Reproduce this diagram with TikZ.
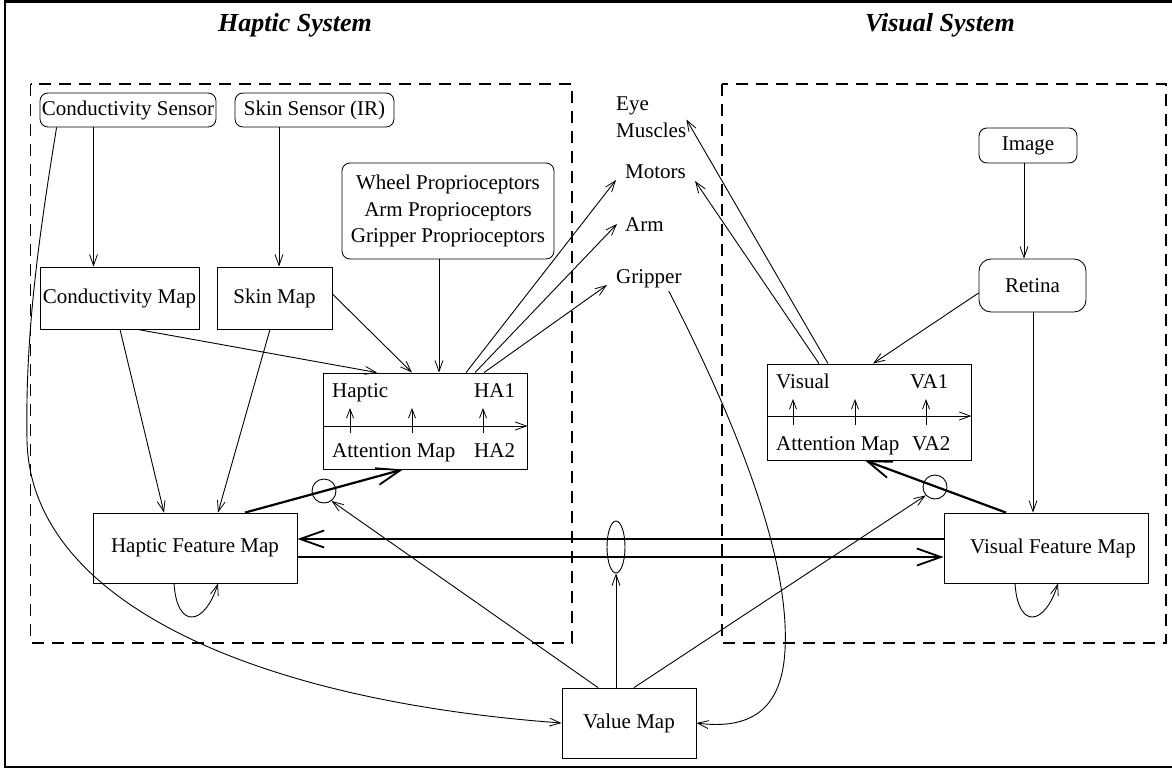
\documentclass[tikz,border=0pt]{standalone}
\usepackage{fontspec}
\setmainfont{Liberation Serif}
\usetikzlibrary{arrows.meta,shapes.geometric}
\begin{document}
\begin{tikzpicture}[x=1pt,y=-1pt,
  font=\fontsize{21}{26.5}\selectfont,
  arr/.style={line width=0.9pt,-{Straight Barb[length=11pt,width=8pt,line width=0.8pt]}},
  sarr/.style={line width=0.9pt,-{Straight Barb[length=9pt,width=7pt,line width=0.8pt]}},
  bigarr/.style={line width=2.2pt,-{Straight Barb[length=24pt,width=17pt,line width=1.8pt]}},
  box/.style={draw,line width=0.85pt,rectangle,inner sep=0pt},
  rbox/.style={box,rounded corners=8pt},
  dashbox/.style={draw,line width=1.6pt,dash pattern=on 12pt off 8pt},
  title/.style={font=\fontsize{26}{30}\selectfont\bfseries\itshape},
  lbl/.style={inner sep=0pt,anchor=mid west},
  ring/.style={circle,draw,line width=0.9pt,minimum size=24pt,inner sep=0pt}]
\useasboundingbox (0,0) rectangle (1172,769);
% frame
\draw[line width=3pt] (1172,1.5) -- (5,1.5);
\draw[line width=2.5pt] (5,0) -- (5,768);
\draw[line width=2pt] (5,767) -- (1172,767);
% titles
\node[title] (ht) at (295,25) {Haptic System};
\node[title] (vt) at (940,25) {Visual System};
% dashed regions
\draw[dashbox] (30.6,84) rectangle (572,643);
\draw[dashbox] (722,84) rectangle (1166,643);
% haptic nodes
\node[rbox,minimum width=176pt,minimum height=34pt] (cs) at (128,110) {Conductivity Sensor};
\node[rbox,minimum width=159pt,minimum height=34pt] (ss) at (314.5,110) {Skin Sensor (IR)};
\node[rbox,minimum width=212pt,minimum height=96pt,align=center] (pp) at (448,211) {Wheel Proprioceptors\\Arm Proprioceptors\\Gripper Proprioceptors};
\node[box,minimum width=159pt,minimum height=62pt] (cm) at (119.5,298) {Conductivity Map};
\node[box,minimum width=115pt,minimum height=62pt] (sm) at (274.5,298) {Skin Map};
\node[box,minimum width=204pt,minimum height=96pt] (ha) at (425,421) {};
\node[box,minimum width=204pt,minimum height=70pt] (hf) at (195,548) {Haptic Feature Map};
% attention labels (haptic)
\node[lbl] (hl1) at (332,395) {Haptic};
\node[lbl] (hl2) at (474,395) {HA1};
\node[lbl] (hl3) at (332,455) {Attention Map};
\node[lbl] (hl4) at (474,455) {HA2};
% visual nodes
\node[rbox,minimum width=98pt,minimum height=35pt] (im) at (1028,145.5) {Image};
\node[rbox,rounded corners=12pt,minimum width=107pt,minimum height=53pt] (re) at (1032.5,285.5) {Retina};
\node[box,minimum width=204pt,minimum height=96pt] (va) at (869,412) {};
\node[box,minimum width=204pt,minimum height=70pt] (vf) at (1046,548) {\hspace*{14pt}Visual Feature Map};
\node[lbl] (vl1) at (776,386) {Visual};
\node[lbl] (vl2) at (910,386) {VA1};
\node[lbl] (vl3) at (776,448) {Attention Map};
\node[lbl] (vl4) at (912,448) {VA2};
% value map
\node[box,minimum width=134pt,minimum height=70pt] (vm) at (629,723) {Value Map};
% effectors
\node[inner sep=0pt,anchor=west,align=left] (eye) at (616,117) {Eye\\Muscles};
\node[lbl] (mot) at (625,176) {Motors};
\node[lbl] (arm) at (625,229) {Arm};
\node[lbl] (grip) at (616,281) {Gripper};
% rings
\node[ring] (hc) at (324,491) {};
\node[ring] (vc) at (935,487) {};
\node[ellipse,draw,line width=0.9pt,minimum width=18pt,minimum height=52pt,inner sep=0pt] (el) at (616,547) {};
% haptic connectors
\draw[arr] ([xshift=-34.5pt]cs.south) -- ([xshift=-26pt]cm.north);
\draw[arr] ([xshift=-35.5pt]ss.south) -- ([xshift=4.5pt]sm.north);
\draw[arr] ([xshift=-9pt]pp.south) -- ([xshift=14pt]ha.north);
\draw[arr] ([xshift=18pt]cm.south) -- ([xshift=-48pt]ha.north);
\draw[arr] ([yshift=4pt]sm.east) -- ([xshift=-13pt]ha.north);
\draw[arr] ([xshift=41pt]ha.north) -- ([xshift=-9pt,yshift=-4pt]mot.mid west);
\draw[arr] ([xshift=50pt]ha.north) -- ([xshift=-8pt,yshift=5pt]arm.mid west);
\draw[arr] ([xshift=59pt]ha.north) -- ([xshift=-9pt,yshift=-4pt]grip.mid west);
\draw[arr] ([xshift=0.5pt]cm.south) -- ([xshift=-31pt]hf.north);
\draw[arr] ([xshift=-4.5pt]sm.south) -- ([xshift=23pt]hf.north);
\draw[bigarr] ([xshift=50pt]hf.north) -- ([xshift=-22pt]ha.south);
\draw[arr] ([xshift=-21pt]hf.south) .. controls +(3,47) and +(-13,42) .. ([xshift=23pt]hf.south);
% haptic attention internals
\draw[arr] ([yshift=-5pt]ha.west) -- ([yshift=-5pt]ha.east);
\draw[sarr] ([xshift=-75pt,yshift=-12pt]ha.center) -- ([xshift=-75pt,yshift=13pt]ha.center);
\draw[sarr] ([xshift=-13pt,yshift=-12pt]ha.center) -- ([xshift=-13pt,yshift=13pt]ha.center);
\draw[sarr] ([xshift=58pt,yshift=-12pt]ha.center) -- ([xshift=58pt,yshift=13pt]ha.center);
% visual connectors
\draw[arr] ([xshift=-4pt]im.south) -- ([xshift=-8.5pt]re.north);
\draw[arr] ([yshift=-7.5pt]re.west) -- ([xshift=4pt]va.north);
\draw[arr] ([xshift=0.5pt]re.south) -- ([xshift=-13pt]vf.north);
\draw[arr] ([xshift=-41pt]va.north) -- ([yshift=-2.5pt]eye.east);
\draw[arr] ([xshift=-50pt]va.north) -- ([xshift=9pt,yshift=-5pt]mot.mid east);
\draw[bigarr] ([xshift=-40pt]vf.north) -- ([xshift=-4pt]va.south);
\draw[arr] ([xshift=-31pt]vf.south) .. controls +(3,47) and +(-13,42) .. ([xshift=12pt]vf.south);
% visual attention internals
\draw[arr] ([yshift=-4pt]va.west) -- ([yshift=-4pt]va.east);
\draw[sarr] ([xshift=-76pt,yshift=-13pt]va.center) -- ([xshift=-76pt,yshift=13pt]va.center);
\draw[sarr] ([xshift=-14pt,yshift=-13pt]va.center) -- ([xshift=-14pt,yshift=13pt]va.center);
\draw[sarr] ([xshift=57pt,yshift=-13pt]va.center) -- ([xshift=57pt,yshift=13pt]va.center);
% feature map exchange
\draw[bigarr] ([yshift=9pt]vf.west) -- ([yshift=9pt]hf.east);
\draw[bigarr] ([yshift=-9pt]hf.east) -- ([yshift=-9pt]vf.west);
% value map connectors
\draw[arr] ([xshift=-31pt]vm.north) -- (hc.-53);
\draw[arr] ([xshift=-13pt]vm.north) -- (el.south);
\draw[arr] ([xshift=5pt]vm.north) -- (vc.222);
\draw[arr] ([xshift=17pt]cs.south west) .. controls (40,230) and (25,330) .. (27,440) .. controls (30,600) and (250,700) .. (vm.west);
\draw[arr] ([xshift=-13pt,yshift=-3pt]grip.south east) .. controls (740,430) and (790,560) .. (785,650) .. controls (782,710) and (750,730) .. (vm.east);
\end{tikzpicture}
\end{document}
